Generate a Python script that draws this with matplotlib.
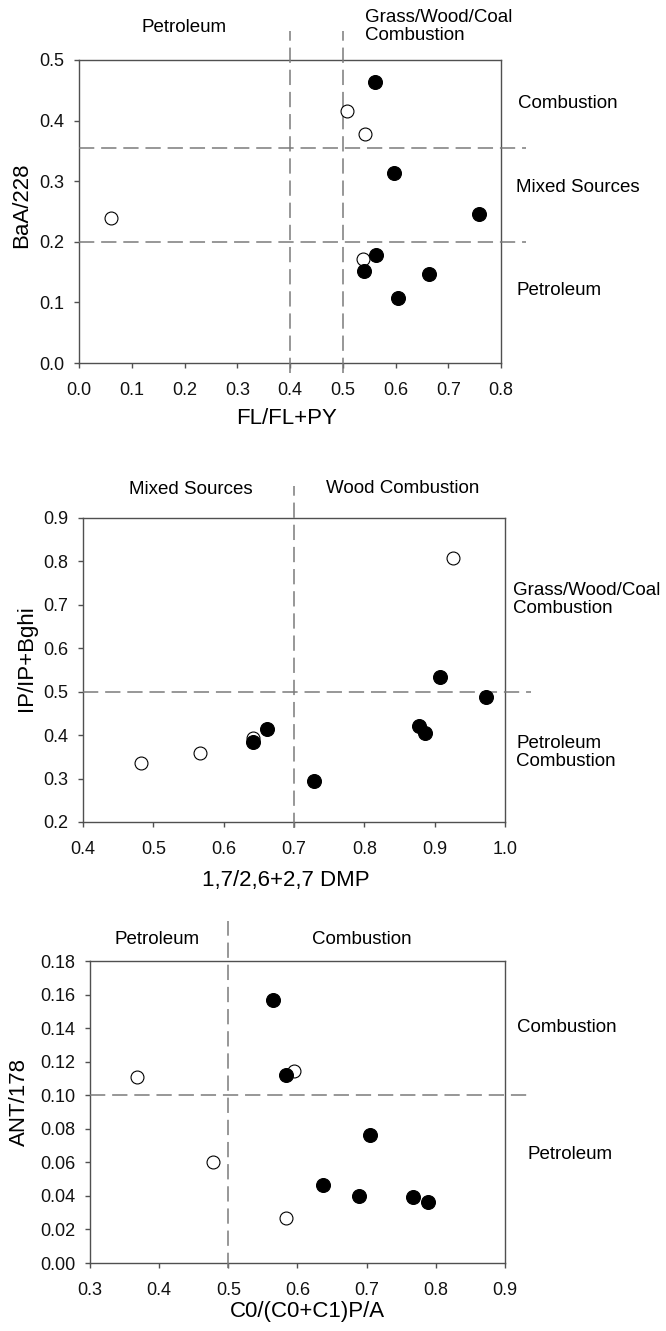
import matplotlib
matplotlib.use("Agg")
import matplotlib.pyplot as plt

plt.rcParams['font.family'] = ['Liberation Sans', 'DejaVu Sans']

# ---------------- data ----------------
# Panel 1: FL/FL+PY vs BaA/228
p1_open_x = [0.509, 0.543, 0.060, 0.539]
p1_open_y = [0.416, 0.378, 0.239, 0.171]
p1_fill_x = [0.562, 0.597, 0.758, 0.563, 0.541, 0.664, 0.604]
p1_fill_y = [0.464, 0.313, 0.246, 0.179, 0.152, 0.147, 0.107]
p1_xticks = [0.0, 0.1, 0.2, 0.3, 0.4, 0.5, 0.6, 0.7, 0.8]
p1_yticks = [0.0, 0.1, 0.2, 0.3, 0.4, 0.5]
p1_hlines = [0.355, 0.2]
p1_vlines = [0.4, 0.5]

# Panel 2: 1,7/2,6+2,7 DMP vs IP/IP+Bghi
p2_open_x = [0.926, 0.483, 0.566, 0.642]
p2_open_y = [0.807, 0.336, 0.359, 0.394]
p2_fill_x = [0.907, 0.973, 0.878, 0.886, 0.662, 0.642, 0.728]
p2_fill_y = [0.535, 0.488, 0.421, 0.404, 0.415, 0.384, 0.295]
p2_xticks = [0.4, 0.5, 0.6, 0.7, 0.8, 0.9, 1.0]
p2_yticks = [0.2, 0.3, 0.4, 0.5, 0.6, 0.7, 0.8, 0.9]
p2_hlines = [0.5]
p2_vlines = [0.7]

# Panel 3: C0/(C0+C1)P/A vs ANT/178
p3_open_x = [0.368, 0.595, 0.478, 0.584]
p3_open_y = [0.1108, 0.1142, 0.0601, 0.0268]
p3_fill_x = [0.565, 0.583, 0.705, 0.637, 0.689, 0.767, 0.788]
p3_fill_y = [0.1565, 0.1118, 0.0763, 0.0467, 0.0398, 0.0394, 0.0361]
p3_xticks = [0.3, 0.4, 0.5, 0.6, 0.7, 0.8, 0.9]
p3_yticks = [0.00, 0.02, 0.04, 0.06, 0.08, 0.10, 0.12, 0.14, 0.16, 0.18]
p3_hlines = [0.10]
p3_vlines = [0.5]

W, H = 666, 1331
fig = plt.figure(figsize=(W / 100, H / 100), dpi=100)
fig.patch.set_facecolor('white')

SPINE = '#505050'
DASH = '#7a7a7a'
TICKFS = 13
LABELFS = 16
ANNFS = 13.5


def make_ax(left, right, top, bottom):
    return fig.add_axes([left / W, 1 - bottom / H, (right - left) / W, (bottom - top) / H])


def style(ax, xlim, ylim, xticks, yticks, xfmt, yfmt):
    ax.set_xlim(*xlim)
    ax.set_ylim(*ylim)
    ax.set_xticks(xticks)
    ax.set_yticks(yticks)
    ax.set_xticklabels([xfmt.format(v) for v in xticks])
    ax.set_yticklabels([yfmt.format(v) for v in yticks])
    for s in ax.spines.values():
        s.set_color(SPINE)
        s.set_linewidth(1.0)
    ax.tick_params(axis='both', direction='out', length=3.5, width=1.0,
                   color=SPINE, labelsize=TICKFS, labelcolor='#111111')
    ax.tick_params(axis='x', pad=10)
    ax.tick_params(axis='y', pad=7)


def points(ax, ox, oy, fx, fy):
    ax.plot(ox, oy, linestyle='none', marker='o', markersize=9.3,
            markerfacecolor='white', markeredgecolor='black', markeredgewidth=0.8,
            clip_on=False, zorder=5)
    ax.plot(fx, fy, linestyle='none', marker='o', markersize=10,
            markerfacecolor='black', markeredgecolor='black', markeredgewidth=0.8,
            clip_on=False, zorder=6)


def hline(ax, y, x0, x1):
    ln, = ax.plot([x0, x1], [y, y], color=DASH, lw=1.1, clip_on=False, zorder=3)
    ln.set_dashes((10, 4.5))


def vline(ax, x, y0, y1):
    ln, = ax.plot([x, x], [y0, y1], color=DASH, lw=1.1, clip_on=False, zorder=3)
    ln.set_dashes((10, 4.5))


# ---------------- Panel 1 ----------------
ax1 = make_ax(79, 501, 60, 363)
style(ax1, (0.0, 0.8), (0.0, 0.5), p1_xticks, p1_yticks, '{:.1f}', '{:.1f}')
for y in p1_hlines:
    hline(ax1, y, 0.0, 0.847)
for x in p1_vlines:
    vline(ax1, x, -0.016, 0.548)
points(ax1, p1_open_x, p1_open_y, p1_fill_x, p1_fill_y)
ax1.text(0.2, 0.553, 'Petroleum', ha='center', va='center', fontsize=ANNFS, clip_on=False)
ax1.text(0.542, 0.555, 'Grass/Wood/Coal\nCombustion', ha='left', va='center',
         fontsize=ANNFS, linespacing=1.1, clip_on=False)
ax1.text(0.832, 0.429, 'Combustion', ha='left', va='center', fontsize=ANNFS, clip_on=False)
ax1.text(0.828, 0.289, 'Mixed Sources', ha='left', va='center', fontsize=ANNFS, clip_on=False)
ax1.text(0.830, 0.119, 'Petroleum', ha='left', va='center', fontsize=ANNFS, clip_on=False)
ax1.set_xlabel('FL/FL+PY', fontsize=LABELFS, va='center')
ax1.xaxis.set_label_coords(0.493, -0.182)
ax1.set_ylabel('BaA/228', fontsize=LABELFS, va='center')
ax1.yaxis.set_label_coords(-0.137, 0.52)

# ---------------- Panel 2 ----------------
ax2 = make_ax(83, 505, 518, 822)
style(ax2, (0.4, 1.0), (0.2, 0.9), p2_xticks, p2_yticks, '{:.1f}', '{:.1f}')
for y in p2_hlines:
    hline(ax2, y, 0.4, 1.037)
for x in p2_vlines:
    vline(ax2, x, 0.186, 0.973)
points(ax2, p2_open_x, p2_open_y, p2_fill_x, p2_fill_y)
ax2.text(0.553, 0.965, 'Mixed Sources', ha='center', va='center', fontsize=ANNFS, clip_on=False)
ax2.text(0.855, 0.967, 'Wood Combustion', ha='center', va='center', fontsize=ANNFS, clip_on=False)
ax2.text(1.012, 0.713, 'Grass/Wood/Coal\nCombustion', ha='left', va='center',
         fontsize=ANNFS, linespacing=1.1, clip_on=False)
ax2.text(1.016, 0.360, 'Petroleum\nCombustion', ha='left', va='center',
         fontsize=ANNFS, linespacing=1.1, clip_on=False)
ax2.set_xlabel('1,7/2,6+2,7 DMP', fontsize=LABELFS, va='center')
ax2.xaxis.set_label_coords(0.48, -0.191)
ax2.set_ylabel('IP/IP+Bghi', fontsize=LABELFS, va='center')
ax2.yaxis.set_label_coords(-0.133, 0.54)

# ---------------- Panel 3 ----------------
ax3 = make_ax(90, 505, 961, 1263)
style(ax3, (0.3, 0.9), (0.0, 0.18), p3_xticks, p3_yticks, '{:.1f}', '{:.2f}')
for y in p3_hlines:
    hline(ax3, y, 0.3, 0.937)
for x in p3_vlines:
    vline(ax3, x, -0.003, 0.2037)
points(ax3, p3_open_x, p3_open_y, p3_fill_x, p3_fill_y)
ax3.text(0.397, 0.1926, 'Petroleum', ha='center', va='center', fontsize=ANNFS, clip_on=False)
ax3.text(0.693, 0.1926, 'Combustion', ha='center', va='center', fontsize=ANNFS, clip_on=False)
ax3.text(0.917, 0.1406, 'Combustion', ha='left', va='center', fontsize=ANNFS, clip_on=False)
ax3.text(0.932, 0.0645, 'Petroleum', ha='left', va='center', fontsize=ANNFS, clip_on=False)
ax3.set_xlabel('C0/(C0+C1)P/A', fontsize=LABELFS, va='center')
ax3.xaxis.set_label_coords(0.525, -0.162)
ax3.set_ylabel('ANT/178', fontsize=LABELFS, va='center')
ax3.yaxis.set_label_coords(-0.171, 0.533)

fig.savefig('out.png', dpi=100, facecolor='white')
